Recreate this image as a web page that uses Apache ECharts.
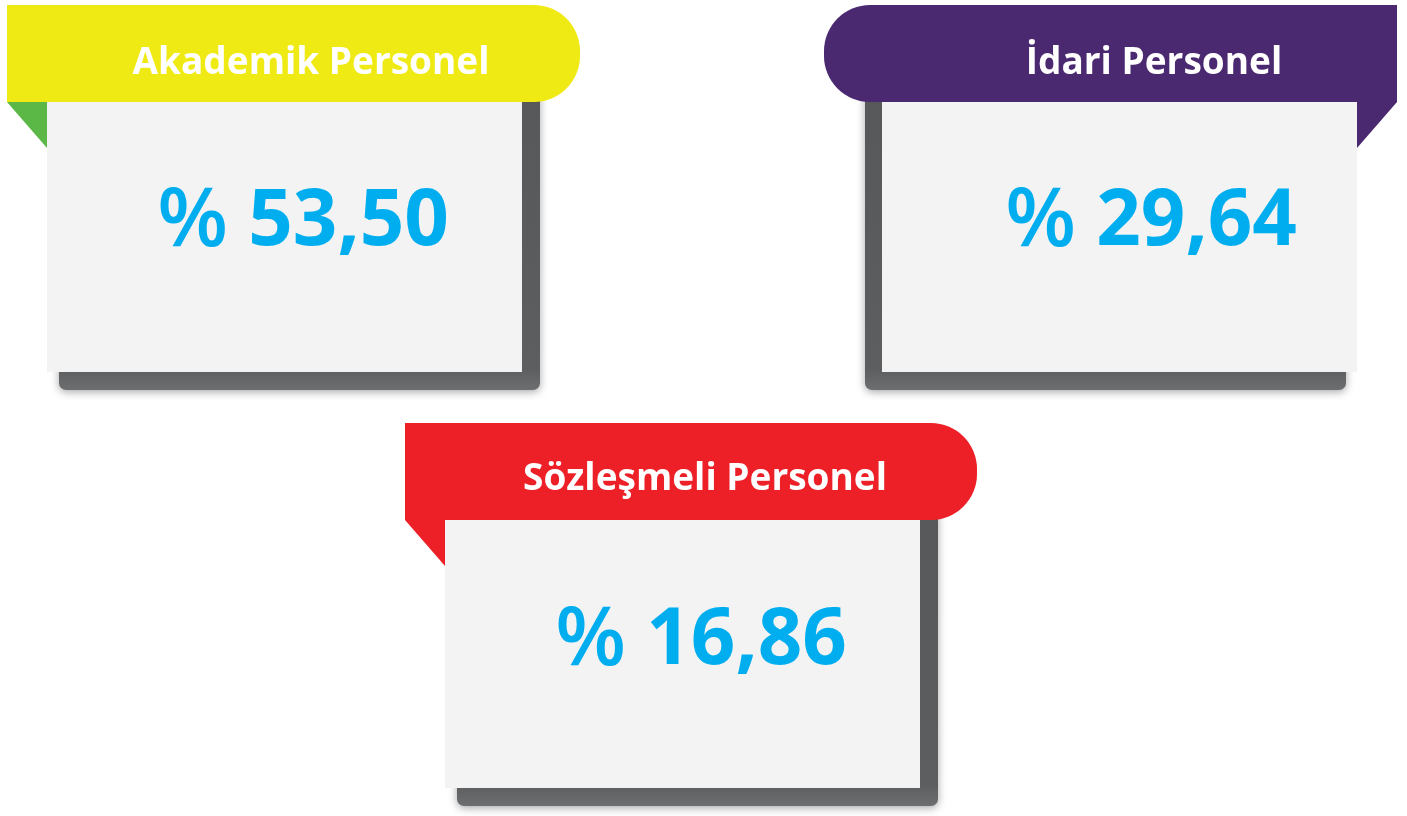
<!DOCTYPE html>
<html lang="tr">

<head>
    <meta charset="UTF-8">
    <title>Personel Dağılımı</title>
    <script src="https://cdn.jsdelivr.net/npm/echarts@6/dist/echarts.min.js"></script>
    <style>
        html, body {
            margin: 0;
            padding: 0;
            background: #ffffff;
        }
        #main {
            width: 1407px;
            height: 816px;
        }
    </style>
</head>

<body>
    <div id="main"></div>
</body>

<script>
    // data
    var categories = ['Akademik Personel', 'İdari Personel', 'Sözleşmeli Personel'];
    var percentages = [53.50, 29.64, 16.86];

    // styles (kept apart from the data)
    var bannerColors = ['#f0ea14', '#4a2971', '#ed1f27'];
    var flapColors = ['#5bb846', '#4a2971', '#ed1f27'];
    var valueColor = '#00aeef';
    var fontName = '"Open Sans", Lato, sans-serif';

    // layout of each card: banner box, body box, text centres, flap side
    var cards = [
        { bx: 7, by: 5, bw: 573, bh: 97, cx: 47, cw: 475, ch: 270, tx: 311, ty: 63, vx: 303, vy: 223, side: 'right' },
        { bx: 824, by: 5, bw: 573, bh: 97, cx: 882, cw: 475, ch: 270, tx: 1154, ty: 63, vx: 1151, vy: 223, side: 'left' },
        { bx: 405, by: 423, bw: 572, bh: 97, cx: 445, cw: 475, ch: 268, tx: 705, ty: 479, vx: 701, vy: 642, side: 'right' }
    ];

    function formatValue(v) {
        return '{p|%} {n|' + v.toFixed(2).replace('.', ',') + '}';
    }

    function buildCard(i) {
        var c = cards[i];
        var top = c.by + c.bh;
        var els = [];
        var shadowX = c.side === 'right' ? c.cx + 12 : c.cx - 17;

        // dark shadow behind the card
        els.push({
            type: 'rect',
            shape: { x: shadowX, y: top - 10, width: c.cw + 6, height: c.ch + 28, r: 7 },
            style: {
                fill: new echarts.graphic.LinearGradient(0, 0, 0, 1, [
                    { offset: 0, color: '#56585a' },
                    { offset: 0.93, color: '#5c5e60' },
                    { offset: 1, color: '#6c6e70' }
                ]),
                shadowBlur: 9,
                shadowColor: 'rgba(0,0,0,0.35)',
                shadowOffsetY: 2
            },
            z: 1
        });
        // card body
        els.push({
            type: 'rect',
            shape: { x: c.cx, y: top, width: c.cw, height: c.ch },
            style: { fill: '#f3f3f4' },
            z: 2
        });
        // folded flap under the banner
        var pts;
        if (c.side === 'right') {
            pts = [[c.bx, top], [c.cx, top], [c.cx, top + 46]];
        } else {
            var ex = c.bx + c.bw;
            var inner = c.cx + c.cw;
            pts = [[inner, top], [ex, top], [inner, top + 46]];
        }
        els.push({
            type: 'polygon',
            shape: { points: pts },
            style: { fill: flapColors[i] },
            z: 3
        });
        // banner
        var radius = c.side === 'right' ? [0, 46, 46, 0] : [46, 0, 0, 46];
        els.push({
            type: 'rect',
            shape: { x: c.bx, y: c.by, width: c.bw, height: c.bh, r: radius },
            style: { fill: bannerColors[i] },
            z: 4
        });
        // banner title
        els.push({
            type: 'text',
            x: c.tx,
            y: c.ty,
            style: {
                text: categories[i],
                fill: '#ffffff',
                font: 'bold 37px ' + fontName,
                align: 'center',
                verticalAlign: 'middle'
            },
            z: 5
        });
        // value
        els.push({
            type: 'text',
            x: c.vx,
            y: c.vy,
            style: {
                text: formatValue(percentages[i]),
                fill: valueColor,
                align: 'center',
                verticalAlign: 'middle',
                rich: {
                    p: { fontFamily: fontName, fontWeight: 600, fontSize: 82, fill: valueColor },
                    n: { fontFamily: fontName, fontWeight: 'bold', fontSize: 78, fill: valueColor }
                },
                font: 'bold 78px ' + fontName
            },
            z: 5
        });
        return els;
    }

    var graphics = [];
    for (let i = 0; i < categories.length; i++) {
        graphics = graphics.concat(buildCard(i));
    }

    var chartDom = document.getElementById('main');
    var myChart = echarts.init(chartDom);
    var option = {
        backgroundColor: '#ffffff',
        graphic: graphics
    };
    myChart.setOption(option);
</script>

</html>
